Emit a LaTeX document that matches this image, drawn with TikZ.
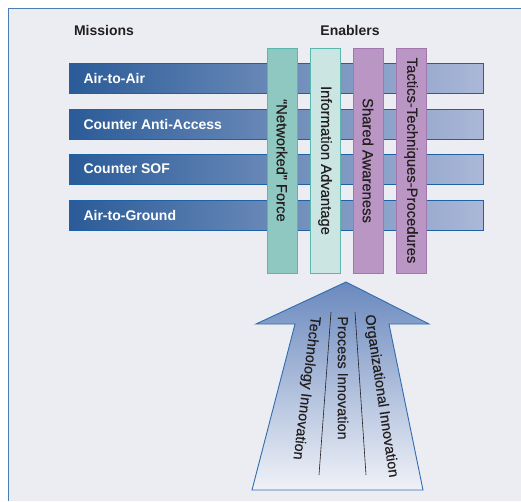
\documentclass[tikz,border=0pt]{standalone}
\usepackage{fontspec}
\setmainfont{Liberation Sans}
\newfontfamily\medsans[FakeBold=0.5]{Liberation Sans}
\definecolor{bgpanel}{HTML}{ECEDF3}
\definecolor{frameline}{HTML}{4A7FB5}
\definecolor{ink}{HTML}{231F20}
\definecolor{bardark}{HTML}{2A5B98}
\definecolor{barlight}{HTML}{ABB8D8}
\definecolor{barline}{HTML}{1E62A6}
\definecolor{tealdark}{HTML}{8FC8C1}
\definecolor{teallight}{HTML}{CBE6E2}
\definecolor{tealline}{HTML}{5AB7AD}
\definecolor{mauve}{HTML}{BA96C4}
\definecolor{mauveline}{HTML}{A277AE}
\definecolor{arrowtop}{HTML}{6A89BE}
\definecolor{arrowbot}{HTML}{F0F2F8}
\definecolor{arrowline}{HTML}{2F6DAF}
\tikzset{
  mission/.style={draw=barline, line width=0.8pt, left color=bardark, right color=barlight, minimum width=414pt, minimum height=30pt, inner sep=0pt},
  mtext/.style={anchor=west, text=white, font=\fontsize{14}{16}\selectfont\bfseries},
  heading/.style={text=ink, font=\fontsize{14}{16}\selectfont\bfseries},
  enabler/.style={rotate=-90, line width=1pt, minimum width=225pt, minimum height=30pt, inner sep=0pt, text=ink, font=\medsans\fontsize{14.8}{16}\selectfont},
  innov/.style={text=ink, font=\medsans\fontsize{14.5}{16}\selectfont}
}
\begin{document}
\begin{tikzpicture}[x=1pt,y=-1pt]
  \useasboundingbox (0,0) rectangle (521,501);
  \fill[bgpanel] (8,8) rectangle (521,501);
  \draw[frameline, line width=0.8pt] (8,501) -- (8,8) -- (521,8);

  \node[heading] (missions) at (104,30) {Missions};
  \node[heading] (enablers) at (350,30) {Enablers};

  \node[mission] (m1) at (276,78) {};
  \node[mission] (m2) at (276,124) {};
  \node[mission] (m3) at (276,169) {};
  \node[mission] (m4) at (276,215) {};
  \node[mtext] (m1t) at (80,78) {Air-to-Air};
  \node[mtext] (m2t) at (80,124) {Counter Anti-Access};
  \node[mtext] (m3t) at (80,169) {Counter SOF};
  \node[mtext] (m4t) at (80,215) {Air-to-Ground};

  \node[enabler, draw=tealline, fill=tealdark] (e1) at (282,160.5) {“Networked” Force};
  \node[enabler, draw=tealline, fill=teallight] (e2) at (325,160.5) {Information Advantage};
  \node[enabler, draw=mauveline, fill=mauve] (e3) at (368,160.5) {Shared Awareness};
  \node[enabler, draw=mauveline, fill=mauve] (e4) at (411,160.5) {Tactics-Techniques-Procedures};

  \draw[arrowline, line width=0.9pt, top color=arrowtop, bottom color=arrowbot]
    (252,490) -- (295,324) -- (256,324) -- (346,282) -- (429,324) -- (389,324) -- (423,490) -- cycle;
  \draw[ink, line width=0.6pt] (331,312) -- (319,475);
  \draw[ink, line width=0.6pt] (355,312) -- (366,475);

  \node[innov, rotate=-97] (tech) at (306,388) {Technology Innovation};
  \node[innov, rotate=-90] (proc) at (343,378) {Process Innovation};
  \node[innov, rotate=-81.5] (org) at (381,396) {Organizational Innovation};
\end{tikzpicture}
\end{document}
